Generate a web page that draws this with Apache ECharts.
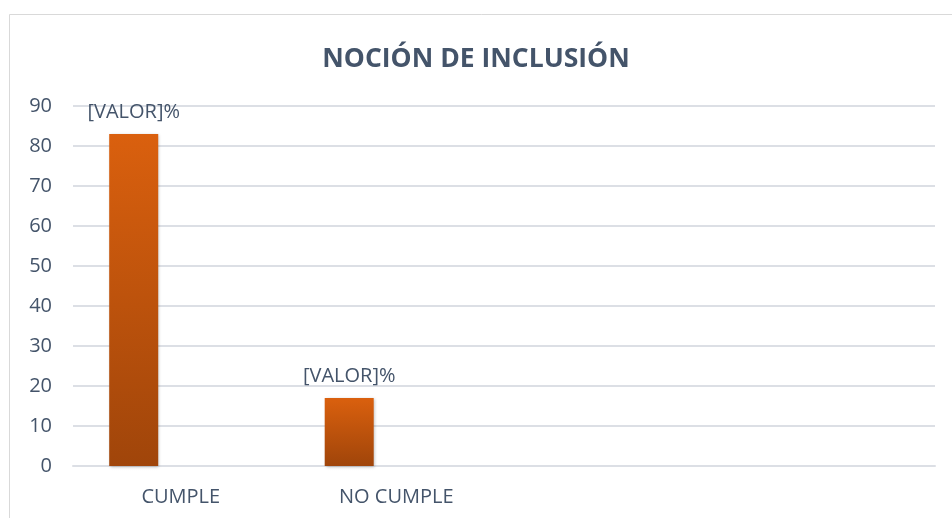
<!DOCTYPE html>
<html>
<head>
<meta charset="utf-8">
<script src="https://cdn.jsdelivr.net/npm/echarts@6/dist/echarts.min.js"></script>
<style>
  html, body { margin: 0; padding: 0; background: #fff; }
  #main { width: 952px; height: 518px; }
</style>
</head>
<body>
<div id="main"></div>
<script>
// datos del gráfico
var categorias = ['CUMPLE', 'NO CUMPLE', '', ''];
var valores = [83, 17];
var vacio = [];
var etiqueta = '[VALOR]%';

var myChart = echarts.init(document.getElementById('main'));

var textColor = '#44546A';
var gridColor = '#DCDFE5';

var option = {
  backgroundColor: '#fff',
  textStyle: { fontFamily: 'Open Sans' },
  graphic: [{
    type: 'rect',
    shape: { x: 9.5, y: 14.5, width: 960, height: 520 },
    style: { fill: 'none', stroke: '#D9D9D9', lineWidth: 1 },
    silent: true
  }],
  title: {
    text: 'NOCIÓN DE INCLUSIÓN',
    left: 'center',
    top: 41,
    textStyle: { color: textColor, fontSize: 26.5, fontWeight: 'bold', fontFamily: 'Open Sans' }
  },
  grid: { left: 73, right: 17, top: 106, bottom: 52 },
  xAxis: {
    type: 'category',
    data: categorias,
    axisLine: { lineStyle: { color: gridColor, width: 2 } },
    axisTick: { show: false },
    axisLabel: { color: textColor, fontSize: 20, margin: 21 }
  },
  yAxis: {
    type: 'value',
    min: 0,
    max: 90,
    interval: 10,
    axisLine: { show: false },
    axisTick: { show: false },
    axisLabel: { color: textColor, fontSize: 20, margin: 21 },
    splitLine: { lineStyle: { color: gridColor, width: 2 } }
  },
  series: [
    {
      type: 'bar',
      data: valores,
      barWidth: 49,
      barGap: '92%',
      itemStyle: {
        color: new echarts.graphic.LinearGradient(0, 0, 0, 1, [
          { offset: 0, color: '#DA600E' },
          { offset: 1, color: '#A0450A' }
        ]),
        shadowColor: 'rgba(0,0,0,0.25)',
        shadowBlur: 3,
        shadowOffsetX: 1,
        shadowOffsetY: 1
      },
      label: {
        show: true,
        position: 'top',
        distance: 12,
        formatter: etiqueta,
        color: textColor,
        fontSize: 20
      }
    },
    {
      type: 'bar',
      data: vacio,
      barWidth: 49
    }
  ]
};

myChart.setOption(option);
</script>
</body>
</html>
